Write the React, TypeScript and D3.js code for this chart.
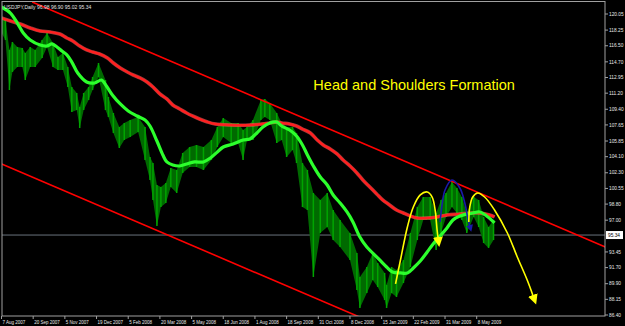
import React from "react";
import * as d3 from "d3";

const W = 625;
const H = 326;
const plot = { left: 2, top: 1.5, right: 605, bottom: 316 };

// Daily bars (sampled) — bar index, high, low
const barIdx = [0,4,8,11,16,21,24,29,34,41,46,52,57,62,67,71,76,79,83,88,92,98,105,108,113,119,124,130,138,145,150,153,157,161,166,171,177,183,190,197,204,212,218,224,232,239,244,248,254,262,266,271,278,283,288,294,298,304,309,315,322,329,335,342,352,359,362,369,375,380,387,389,394,399,406,413,420,426,433,439,444,449,455,460,465,470,477,482,487,492,497];
const barHigh = [119.60,119.38,116.03,116.92,116.36,116.25,115.69,116.36,116.03,117.14,117.93,116.81,115.24,115.69,114.13,111.89,111.22,109.65,111.22,111.89,113.01,114.57,112.67,110.77,108.98,107.42,107.87,108.20,108.54,107.42,104.06,103.39,100.93,100.71,101.16,102.83,102.61,104.51,105.18,105.41,105.18,105.96,107.42,108.42,107.87,107.87,107.08,107.42,108.20,110.44,110.55,110.10,108.98,107.87,107.42,107.42,106.75,103.39,102.61,100.04,99.26,100.04,98.14,97.02,95.57,93.33,90.65,91.77,93.33,92.21,91.10,89.76,91.77,91.43,92.55,95.57,98.47,99.59,99.59,97.80,99.26,100.04,101.27,100.60,99.59,97.80,99.59,99.26,97.36,96.24,97.02];
const barLow = [117.93,117.14,111.55,113.57,114.13,114.13,112.67,114.13,114.13,115.13,116.36,114.13,113.79,113.79,111.89,109.09,109.32,107.31,109.32,110.44,111.55,113.01,109.32,108.54,106.75,105.07,105.96,106.30,106.86,103.73,101.49,99.26,96.35,98.47,98.92,100.71,100.04,102.28,102.95,102.95,102.61,103.73,105.18,106.30,105.63,105.63,103.73,105.96,105.96,108.20,108.54,108.20,105.63,105.96,104.06,104.85,103.39,98.47,98.14,90.65,95.57,96.24,94.79,94.00,92.55,89.20,87.18,88.86,90.31,89.53,88.08,87.18,88.86,88.41,89.98,91.77,94.79,97.02,97.02,93.67,95.57,97.36,98.47,97.80,97.02,95.57,97.36,96.24,94.45,93.89,94.79];

// Fast moving average (green)
const fastMaIdx = [0,9,16,22,29,39,46,51,56,61,66,71,77,86,94,101,106,112,120,128,137,145,150,157,163,167,173,180,187,195,204,211,218,224,234,244,251,258,264,271,278,283,291,298,304,309,315,322,329,335,342,349,355,362,369,375,382,389,395,403,410,416,423,430,436,443,450,456,463,470,476,483,490,496,498];
const fastMaVal = [120.83,120.16,119.04,117.93,117.14,116.58,116.47,116.70,116.36,115.91,115.47,114.68,113.45,112.45,112.34,112.67,112.00,111.00,109.99,109.21,108.65,108.20,107.53,105.85,104.29,103.51,103.17,103.06,103.28,103.51,103.51,103.95,104.62,105.18,105.52,105.96,106.08,106.75,107.42,107.87,107.98,107.53,107.08,106.41,105.41,104.29,103.06,101.83,100.93,99.82,98.92,97.92,96.80,95.12,94.00,93.33,92.55,91.77,91.21,91.10,91.10,91.66,92.44,93.44,94.34,95.23,96.13,97.02,97.47,97.69,97.80,97.92,97.47,96.91,96.69];

// Slow moving average (red)
const slowMaIdx = [0,9,19,29,39,49,59,66,72,79,86,92,99,107,113,120,127,133,140,147,153,160,167,173,180,187,193,200,208,216,231,251,263,271,278,283,291,298,304,312,319,325,332,339,345,352,359,365,372,379,385,392,399,406,413,420,430,440,450,463,473,483,493,498];
const slowMaVal = [119.60,119.27,118.93,118.49,118.15,118.04,117.81,117.37,117.03,116.47,116.03,115.80,115.58,115.13,114.57,114.01,113.57,113.23,112.90,112.45,111.89,111.11,110.55,109.88,109.43,108.98,108.65,108.31,107.98,107.75,107.64,107.64,107.75,107.87,107.98,107.87,107.75,107.53,107.19,106.75,105.96,105.41,104.96,104.40,103.73,103.06,102.28,101.49,100.71,99.93,99.26,98.70,98.14,97.80,97.47,97.24,97.24,97.36,97.58,97.69,97.80,97.80,97.58,97.36];

// Channel trend lines
const upperChannelIdx = [31, 610];
const upperChannelVal = [121.39, 94.0];
const lowerChannelIdx = [0, 400];
const lowerChannelVal = [103.28, 84.36];

// Hand-drawn annotations
const leftShoulderIdx = [398,403,410,416,423,430,435,438,440,441];
const leftShoulderVal = [89.87,92.55,96.24,98.47,99.82,100.15,99.59,98.14,95.90,95.01];
const headIdx = [443,445,448,455,463,468,471,473];
const headVal = [96.80,98.70,100.38,101.49,100.60,98.92,97.24,96.35];
const rightShoulderIdx = [472,473,476,481,488,498,511,521,531,537];
const rightShoulderVal = [96.80,98.47,99.59,100.04,99.59,98.14,95.57,92.89,90.31,88.53];

// Axes
const priceTickVals = [120.05,118.25,116.50,114.70,112.95,111.20,109.40,107.65,105.85,104.10,102.30,100.55,98.80,97.00,93.45,91.70,89.90,88.15,86.40];
const dateLabels = ["7 Aug 2007","20 Sep 2007","5 Nov 2007","19 Dec 2007","5 Feb 2008","20 Mar 2008","5 May 2008","18 Jun 2008","1 Aug 2008","18 Sep 2008","31 Oct 2008","8 Dec 2008","15 Jan 2009","22 Feb 2009","31 Mar 2009","8 May 2009"];
const dateLabelIdx = [0,32,64,96,128,160,192,224,256,288,320,352,384,416,448,480];

const lastPrice = 95.34;
const headerText = "USDJPY,Daily  96.98 96.90 95.02 95.34";
const titleText = "Head and Shoulders Formation";
const titleAt = { idx: 315, val: 111.55 };

export default function App() {
  const x = d3.scaleLinear().domain([0, 610]).range([1.5, 1.5 + 610 * 0.99]);
  const y = d3.scaleLinear().domain([86.4, 120.05]).range([315, 14]);

  const bars = barIdx.map((d, i) => ({ i: d, h: barHigh[i], l: barLow[i] }));
  const area = d3
    .area<any>()
    .x((d) => x(d.i))
    .y0((d) => y(d.l))
    .y1((d) => y(d.h));

  const mk = (xs: number[], vs: number[]) => xs.map((d, i) => [d, vs[i]] as [number, number]);
  const smooth = d3
    .line<[number, number]>()
    .x((d) => x(d[0]))
    .y((d) => y(d[1]))
    .curve(d3.curveCatmullRom.alpha(0.5));
  const straight = d3
    .line<[number, number]>()
    .x((d) => x(d[0]))
    .y((d) => y(d[1]));

  const font = "'Liberation Sans', Arial, sans-serif";

  return (
    <svg
      width={W}
      height={H}
      style={{ position: "fixed", left: 0, top: 0, background: "#000" }}
    >
      <defs>
        <clipPath id="plotclip">
          <rect x={plot.left} y={plot.top} width={plot.right - plot.left} height={plot.bottom - plot.top} />
        </clipPath>
        <marker id="arrY" markerUnits="userSpaceOnUse" markerWidth={12} markerHeight={12} viewBox="0 -6 12 12" refX={1} refY={0} orient="auto">
          <path d="M0,-5L10,0L0,5Z" fill="#ffff00" />
        </marker>
        <marker id="arrB" markerUnits="userSpaceOnUse" markerWidth={10} markerHeight={10} viewBox="0 -5 10 10" refX={1} refY={0} orient="auto">
          <path d="M0,-3.5L7,0L0,3.5Z" fill="#1a1aa8" />
        </marker>
      </defs>
      <rect x={0} y={0} width={W} height={H} fill="#000" />

      <g clipPath="url(#plotclip)">
        {/* current price line */}
        <line x1={plot.left} x2={plot.right} y1={y(lastPrice)} y2={y(lastPrice)} stroke="#6a727c" strokeWidth={1} />

        {/* price bars */}
        <path d={area(bars) || ""} fill="#006a00" />
        {bars.map((b, k) => (
          <line key={k} x1={x(b.i)} x2={x(b.i)} y1={y(b.h)} y2={y(b.l)} stroke="#00a400" strokeWidth={1.5} />
        ))}

        {/* channel */}
        <path d={straight(mk(upperChannelIdx, upperChannelVal)) || ""} stroke="#ff0000" strokeWidth={1.6} fill="none" />
        <path d={straight(mk(lowerChannelIdx, lowerChannelVal)) || ""} stroke="#ff0000" strokeWidth={1.6} fill="none" />

        {/* moving averages */}
        <path d={smooth(mk(slowMaIdx, slowMaVal)) || ""} stroke="#ff6060" strokeWidth={3.6} fill="none" strokeOpacity={0.6} />
        <path d={smooth(mk(slowMaIdx, slowMaVal)) || ""} stroke="#ff2020" strokeWidth={2.4} fill="none" />
        <path d={smooth(mk(fastMaIdx, fastMaVal)) || ""} stroke="#2cff2c" strokeWidth={3.2} fill="none" />

        {/* annotations */}
        <path d={smooth(mk(leftShoulderIdx, leftShoulderVal)) || ""} stroke="#ffff00" strokeWidth={1.6} fill="none" markerEnd="url(#arrY)" />
        <path d={smooth(mk(headIdx, headVal)) || ""} stroke="#1a1aa8" strokeWidth={1.6} fill="none" markerEnd="url(#arrB)" />
        <path d={smooth(mk(rightShoulderIdx, rightShoulderVal)) || ""} stroke="#ffff00" strokeWidth={1.6} fill="none" markerEnd="url(#arrY)" />

        <text x={x(titleAt.idx)} y={y(titleAt.val)} fill="#ffff00" fontSize={14.5} fontFamily="Arial, 'Liberation Sans', sans-serif">
          {titleText}
        </text>
        <text x={4} y={8.5} fill="#e0e0e0" fontSize={5} fontFamily={font}>
          {headerText}
        </text>
      </g>

      {/* frame */}
      <rect x={plot.left} y={plot.top} width={plot.right - plot.left} height={plot.bottom - plot.top} fill="none" stroke="#a0a0a0" strokeWidth={1} />

      {/* right axis */}
      {priceTickVals.map((v, k) => (
        <g key={k}>
          <line x1={plot.right} x2={plot.right + 3} y1={y(v)} y2={y(v)} stroke="#a0a0a0" />
          <text x={plot.right + 4} y={y(v)} dy="0.35em" fill="#e8e8e8" fontSize={4.8} fontFamily={font}>
            {v.toFixed(2)}
          </text>
        </g>
      ))}
      <rect x={plot.right + 1} y={y(lastPrice) - 4} width={17} height={8} fill="#ffffff" />
      <text x={plot.right + 3} y={y(lastPrice)} dy="0.35em" fill="#000" fontSize={4.8} fontFamily={font}>
        {lastPrice.toFixed(2)}
      </text>

      {/* bottom axis */}
      {dateLabelIdx.map((d, k) => (
        <g key={k}>
          <line x1={x(d)} x2={x(d)} y1={plot.bottom} y2={plot.bottom + 3} stroke="#a0a0a0" />
          <text x={x(d) + 1} y={323.5} fill="#e8e8e8" fontSize={4.5} fontFamily={font}>
            {dateLabels[k]}
          </text>
        </g>
      ))}
    </svg>
  );
}
